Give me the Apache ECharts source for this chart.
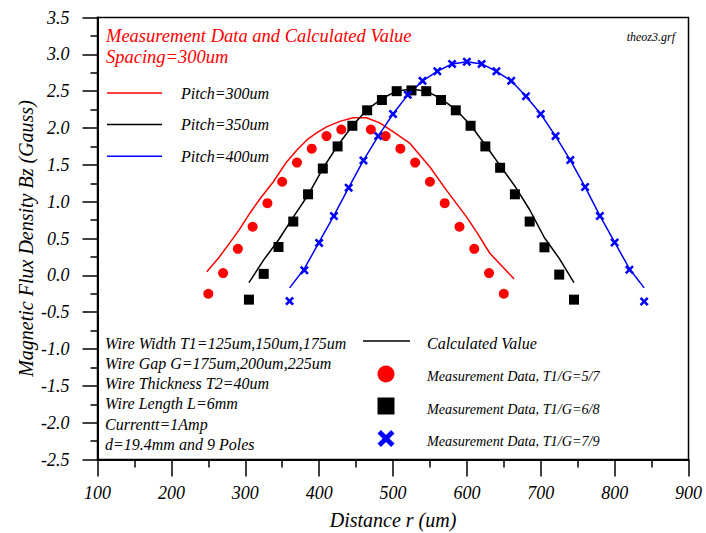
<!DOCTYPE html>
<html>
<head>
<meta charset="utf-8">
<script src="https://cdn.jsdelivr.net/npm/echarts@6/dist/echarts.min.js"></script>
<style>
  html, body { margin: 0; padding: 0; background: #fff; }
  #chart { width: 706px; height: 533px; }
</style>
</head>
<body>
<div id="chart"></div>
<script>
// Axis ticks
const xTicks = [100, 200, 300, 400, 500, 600, 700, 800, 900];
const yTicks = [-2.5, -2.0, -1.5, -1.0, -0.5, 0.0, 0.5, 1.0, 1.5, 2.0, 2.5, 3.0, 3.5];

// Measurement data, T1/G = 5/7 (pitch 300um)
const meas300X = [250, 270, 290, 310, 330, 350, 370, 390, 410, 430, 470, 490, 510, 530, 550, 570, 590, 610, 630, 650];
const meas300Y = [-0.25, 0.03, 0.36, 0.66, 0.98, 1.27, 1.53, 1.72, 1.89, 1.98, 1.98, 1.89, 1.72, 1.53, 1.27, 0.98, 0.66, 0.36, 0.03, -0.25];

// Measurement data, T1/G = 6/8 (pitch 350um)
const meas350X = [305, 325, 345, 365, 385, 405, 425, 445, 465, 485, 505, 525, 545, 565, 585, 605, 625, 645, 665, 685, 705, 725, 745];
const meas350Y = [-0.33, 0.02, 0.385, 0.73, 1.10, 1.45, 1.75, 2.03, 2.24, 2.38, 2.50, 2.51, 2.50, 2.38, 2.24, 2.03, 1.75, 1.46, 1.10, 0.73, 0.38, 0.01, -0.33];

// Measurement data, T1/G = 7/9 (pitch 400um)
const meas400X = [360, 380, 400, 420, 440, 460, 480, 500, 520, 540, 560, 580, 600, 620, 640, 660, 680, 700, 720, 740, 760, 780, 800, 820, 840];
const meas400Y = [-0.35, 0.07, 0.44, 0.805, 1.19, 1.56, 1.89, 2.19, 2.45, 2.64, 2.77, 2.87, 2.90, 2.87, 2.77, 2.64, 2.43, 2.19, 1.89, 1.565, 1.20, 0.805, 0.445, 0.075, -0.355];

// Calculated values
const calc300X = [248, 265, 279, 292, 306, 320, 338, 356, 370, 383, 396, 410, 428, 446, 464, 482, 500, 523, 550, 572, 599, 615, 631, 648, 664];
const calc300Y = [0.05, 0.25, 0.44, 0.62, 0.84, 1.04, 1.27, 1.54, 1.70, 1.835, 1.93, 2.015, 2.09, 2.14, 2.14, 2.07, 1.95, 1.79, 1.47, 1.16, 0.80, 0.56, 0.30, 0.12, -0.05];

const calc350X = [305, 325, 345, 365, 385, 405, 425, 445, 465, 485, 505, 525, 545, 565, 585, 605, 625, 645, 665, 685, 705, 725, 745];
const calc350Y = [-0.10, 0.21, 0.48, 0.79, 1.09, 1.45, 1.76, 2.03, 2.25, 2.40, 2.50, 2.53, 2.50, 2.40, 2.25, 2.04, 1.77, 1.49, 1.21, 0.89, 0.51, 0.23, -0.10];

const calc400X = [360, 380, 400, 420, 440, 460, 480, 500, 520, 540, 560, 580, 600, 620, 640, 660, 680, 700, 720, 740, 760, 780, 800, 820, 840];
const calc400Y = [-0.17, 0.09, 0.45, 0.81, 1.19, 1.56, 1.89, 2.19, 2.45, 2.64, 2.77, 2.87, 2.90, 2.87, 2.77, 2.64, 2.43, 2.19, 1.89, 1.565, 1.20, 0.81, 0.45, 0.09, -0.17];

// Text annotations
const titleLines = ['Measurement Data and Calculated Value', 'Spacing=300um'];
const pitchLabels = ['Pitch=300um', 'Pitch=350um', 'Pitch=400um'];
const wireInfo = [
  'Wire Width T1=125um,150um,175um',
  'Wire Gap G=175um,200um,225um',
  'Wire Thickness T2=40um',
  'Wire Length L=6mm',
  'Currentt=1Amp',
  'd=19.4mm and 9 Poles'
];
const markLabels = ['Calculated Value', 'Measurement Data, T1/G=5/7', 'Measurement Data, T1/G=6/8', 'Measurement Data, T1/G=7/9'];
const fileTag = 'theoz3.grf';

const zip = (xs, ys) => xs.map((x, i) => [x, ys[i]]);

const SERIF = '"Liberation Serif", "DejaVu Serif", "Times New Roman", serif';
const RED = '#ff0000', BLACK = '#000000', BLUE = '#0000ff';
const CROSS = 'path://M0,2 L2,0 L5,3 L8,0 L10,2 L7,5 L10,8 L8,10 L5,7 L2,10 L0,8 L3,5 Z';

const chart = echarts.init(document.getElementById('chart'), null, { renderer: 'svg' });

function text(x, y, str, opts) {
  return {
    type: 'text', x: x, y: y, silent: true,
    style: Object.assign({
      text: str, fill: BLACK, fontFamily: SERIF, fontStyle: 'italic',
      fontSize: 16, verticalAlign: 'middle'
    }, opts || {})
  };
}
function hline(x1, x2, y, color) {
  return { type: 'line', silent: true, shape: { x1: x1, y1: y, x2: x2, y2: y }, style: { stroke: color, lineWidth: 1.5 } };
}

const graphics = [];
graphics.push(text(106, 36, titleLines[0], { fill: RED, fontSize: 18.5 }));
graphics.push(text(106, 57, titleLines[1], { fill: RED, fontSize: 18.5 }));
[RED, BLACK, BLUE].forEach((c, i) => {
  const y = 93 + i * 31.6;
  graphics.push(hline(107, 162, y, c));
  graphics.push(text(181, y, pitchLabels[i], { fontSize: 16 }));
});
graphics.push(text(675, 37, fileTag, { fontSize: 12, align: 'right' }));

wireInfo.forEach((s, i) => {
  graphics.push(text(105, 343 + i * 20.3, s, { fontSize: 16 }));
});
graphics.push(hline(363, 410, 341, BLACK));
graphics.push(text(427, 343, markLabels[0], { fontSize: 16 }));
graphics.push({ type: 'circle', silent: true, shape: { cx: 386, cy: 374, r: 8.5 }, style: { fill: RED } });
graphics.push(text(427, 376, markLabels[1], { fontSize: 14.2 }));
graphics.push({ type: 'rect', silent: true, shape: { x: 377.5, y: 397.5, width: 17, height: 17 }, style: { fill: BLACK } });
graphics.push(text(427, 409, markLabels[2], { fontSize: 14.2 }));
graphics.push({
  type: 'polygon', silent: true,
  shape: { points: [[0,2],[2,0],[5,3],[8,0],[10,2],[7,5],[10,8],[8,10],[5,7],[2,10],[0,8],[3,5]].map(p => [377.5 + p[0] * 1.7, 430 + p[1] * 1.7]) },
  style: { fill: BLUE }
});
graphics.push(text(427, 441, markLabels[3], { fontSize: 14.2 }));

const labelStyle = { color: BLACK, fontFamily: SERIF, fontStyle: 'italic', fontSize: 18 };

const option = {
  animation: false,
  backgroundColor: '#fff',
  grid: {
    left: 97.5, top: 17.5, right: 17.5, bottom: 73.5,
    outerBoundsMode: 'none', containLabel: false,
    show: true, borderColor: BLACK, borderWidth: 1.5, backgroundColor: 'transparent'
  },
  xAxis: {
    type: 'value', min: xTicks[0], max: xTicks[xTicks.length - 1], interval: 100,
    name: 'Distance r (um)', nameLocation: 'middle', nameGap: 50, nameMoveOverlap: false,
    nameTextStyle: { color: BLACK, fontFamily: SERIF, fontStyle: 'italic', fontSize: 20 },
    axisLine: { onZero: false, lineStyle: { color: BLACK, width: 2 } },
    axisTick: { inside: false, length: 17, lineStyle: { color: BLACK, width: 1.5 } },
    minorTick: { show: true, splitNumber: 2, length: 8, lineStyle: { color: BLACK, width: 1.5 } },
    splitLine: { show: false },
    axisLabel: Object.assign({ margin: 24 }, labelStyle)
  },
  yAxis: {
    type: 'value', min: yTicks[0], max: yTicks[yTicks.length - 1], interval: 0.5,
    name: 'Magnetic Flux Density Bz (Gauss)', nameLocation: 'middle', nameGap: 62, nameRotate: 90,
    nameMoveOverlap: false,
    nameTextStyle: { color: BLACK, fontFamily: SERIF, fontStyle: 'italic', fontSize: 20 },
    axisLine: { onZero: false, lineStyle: { color: BLACK, width: 2 } },
    axisTick: { inside: false, length: 15, lineStyle: { color: BLACK, width: 1.5 } },
    minorTick: { show: true, splitNumber: 2, length: 7, lineStyle: { color: BLACK, width: 1.5 } },
    splitLine: { show: false },
    axisLabel: Object.assign({ margin: 28, formatter: v => v.toFixed(1) }, labelStyle)
  },
  graphic: graphics,
  series: [
    { name: 'Pitch=300um', type: 'line', data: zip(calc300X, calc300Y), showSymbol: false, lineStyle: { color: RED, width: 1.5 }, z: 2 },
    { name: 'Pitch=350um', type: 'line', data: zip(calc350X, calc350Y), showSymbol: false, lineStyle: { color: BLACK, width: 1.5 }, z: 2 },
    { name: 'Pitch=400um', type: 'line', data: zip(calc400X, calc400Y), showSymbol: false, lineStyle: { color: BLUE, width: 1.5 }, z: 2 },
    { name: 'T1/G=5/7', type: 'scatter', data: zip(meas300X, meas300Y), symbol: 'circle', symbolSize: 10, itemStyle: { color: RED, opacity: 1 }, z: 3 },
    { name: 'T1/G=6/8', type: 'scatter', data: zip(meas350X, meas350Y), symbol: 'rect', symbolSize: 10, itemStyle: { color: BLACK, opacity: 1 }, z: 3 },
    { name: 'T1/G=7/9', type: 'scatter', data: zip(meas400X, meas400Y), symbol: CROSS, symbolSize: 9, itemStyle: { color: BLUE, opacity: 1 }, z: 3 }
  ]
};
chart.setOption(option);
</script>
</body>
</html>
